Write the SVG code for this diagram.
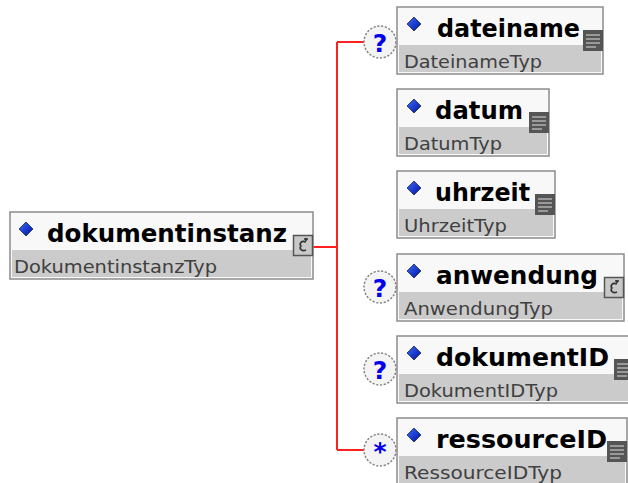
<svg xmlns="http://www.w3.org/2000/svg" width="628" height="483" viewBox="0 0 628 483">
<defs>
<style>
.box{fill:#f8f8f8;stroke:#8c8c8c;stroke-width:1.5}
.band{fill:#cbcbcb}
.name{font-family:"DejaVu Sans",Verdana,sans-serif;font-weight:bold;font-size:25px;fill:#000}
.type{font-family:"DejaVu Sans",Verdana,sans-serif;font-size:17px;fill:#404040}
.dia{fill:url(#blue);stroke:#1a2a40;stroke-width:0.8}
.conn{stroke:#ff2020;stroke-width:2;fill:none}
.occ{fill:#f4f4f4;stroke:#808080;stroke-width:1.4;stroke-dasharray:2.2 1.6}
.occt{font-family:"DejaVu Sans",Verdana,sans-serif;font-weight:bold;font-size:25px;fill:#0000ee;text-anchor:middle}
.simp{fill:#555}
.simpl{stroke:#b0b0b0;stroke-width:1.5}
.cplx{fill:#c8c8c8;stroke:#555;stroke-width:1.5}
.cplxg{fill:none;stroke:#333;stroke-width:1.6}
</style>
<linearGradient id="blue" x1="0" y1="0" x2="1" y2="1">
<stop offset="0" stop-color="#3a6cff"/>
<stop offset="1" stop-color="#0010a0"/>
</linearGradient>
<g id="simpleIcon">
<rect class="simp" x="-20" y="0" width="20" height="21"/>
<line class="simpl" x1="-17" y1="5" x2="-3" y2="5"/>
<line class="simpl" x1="-17" y1="9" x2="-3" y2="9"/>
<line class="simpl" x1="-17" y1="13" x2="-3" y2="13"/>
<line class="simpl" x1="-17" y1="17" x2="-7" y2="17"/>
</g>
<g id="complexIcon">
<rect class="cplx" x="-19.5" y="0.5" width="19" height="20"/>
<path class="cplxg" d="M-7,7 C-12,5 -14,9 -12,11 C-14,13 -12,17 -7,15 M-9,4 L-5,4 M-7,3 L-7,6"/>
</g>
</defs>

<g id="connectors">
<path class="conn" d="M313,247 H337 M337,42 V450 M337,42 H364 M337,450 H364"/>
</g>

<g id="dokumentinstanz">
<rect class="box" x="10" y="212" width="303" height="67"/>
<rect class="band" x="12" y="250" width="299" height="27"/>
<polygon class="dia" points="26,222 33,229 26,236 19,229"/>
<text class="name" x="47" y="242" textLength="240" lengthAdjust="spacingAndGlyphs">dokumentinstanz</text>
<text class="type" x="14" y="273" textLength="203" lengthAdjust="spacingAndGlyphs">DokumentinstanzTyp</text>
<use href="#complexIcon" x="313" y="235"/>
</g>

<g id="occ-dateiname">
<circle class="occ" cx="380" cy="42" r="16"/>
<text class="occt" x="380" y="52">?</text>
</g>
<g id="dateiname">
<rect class="box" x="397" y="7" width="206" height="67"/>
<rect class="band" x="399" y="45" width="202" height="27"/>
<polygon class="dia" points="414,17 421,24 414,31 407,24"/>
<text class="name" x="437" y="37" textLength="143" lengthAdjust="spacingAndGlyphs">dateiname</text>
<text class="type" x="404" y="68" textLength="138" lengthAdjust="spacingAndGlyphs">DateinameTyp</text>
<use href="#simpleIcon" x="603" y="30"/>
</g>

<g id="datum">
<rect class="box" x="397" y="89" width="152" height="67"/>
<rect class="band" x="399" y="127" width="148" height="27"/>
<polygon class="dia" points="414,99 421,106 414,113 407,106"/>
<text class="name" x="435" y="119" textLength="88" lengthAdjust="spacingAndGlyphs">datum</text>
<text class="type" x="404" y="150" textLength="98" lengthAdjust="spacingAndGlyphs">DatumTyp</text>
<use href="#simpleIcon" x="549" y="112"/>
</g>

<g id="uhrzeit">
<rect class="box" x="397" y="171" width="158" height="67"/>
<rect class="band" x="399" y="209" width="154" height="27"/>
<polygon class="dia" points="414,181 421,188 414,195 407,188"/>
<text class="name" x="435" y="201" textLength="95" lengthAdjust="spacingAndGlyphs">uhrzeit</text>
<text class="type" x="404" y="232" textLength="103" lengthAdjust="spacingAndGlyphs">UhrzeitTyp</text>
<use href="#simpleIcon" x="555" y="194"/>
</g>

<g id="occ-anwendung">
<circle class="occ" cx="380" cy="287" r="16"/>
<text class="occt" x="380" y="297">?</text>
</g>
<g id="anwendung">
<rect class="box" x="397" y="254" width="227" height="67"/>
<rect class="band" x="399" y="292" width="223" height="27"/>
<polygon class="dia" points="414,264 421,271 414,278 407,271"/>
<text class="name" x="436" y="284" textLength="162" lengthAdjust="spacingAndGlyphs">anwendung</text>
<text class="type" x="404" y="315" textLength="149" lengthAdjust="spacingAndGlyphs">AnwendungTyp</text>
<use href="#complexIcon" x="624" y="277"/>
</g>

<g id="occ-dokumentID">
<circle class="occ" cx="380" cy="369" r="16"/>
<text class="occt" x="380" y="379">?</text>
</g>
<g id="dokumentID">
<rect class="box" x="397" y="336" width="236" height="67"/>
<rect class="band" x="399" y="374" width="232" height="27"/>
<polygon class="dia" points="414,346 421,353 414,360 407,353"/>
<text class="name" x="436" y="366" textLength="173" lengthAdjust="spacingAndGlyphs">dokumentID</text>
<text class="type" x="404" y="397" textLength="154" lengthAdjust="spacingAndGlyphs">DokumentIDTyp</text>
<use href="#simpleIcon" x="634" y="359"/>
</g>

<g id="occ-ressourceID">
<circle class="occ" cx="380" cy="450" r="16"/>
<text class="occt" x="380" y="460">*</text>
</g>
<g id="ressourceID">
<rect class="box" x="397" y="418" width="230" height="67"/>
<rect class="band" x="399" y="456" width="226" height="27"/>
<polygon class="dia" points="414,428 421,435 414,442 407,435"/>
<text class="name" x="436" y="448" textLength="171" lengthAdjust="spacingAndGlyphs">ressourceID</text>
<text class="type" x="404" y="479" textLength="158" lengthAdjust="spacingAndGlyphs">RessourceIDTyp</text>
<use href="#simpleIcon" x="627" y="441"/>
</g>
</svg>
